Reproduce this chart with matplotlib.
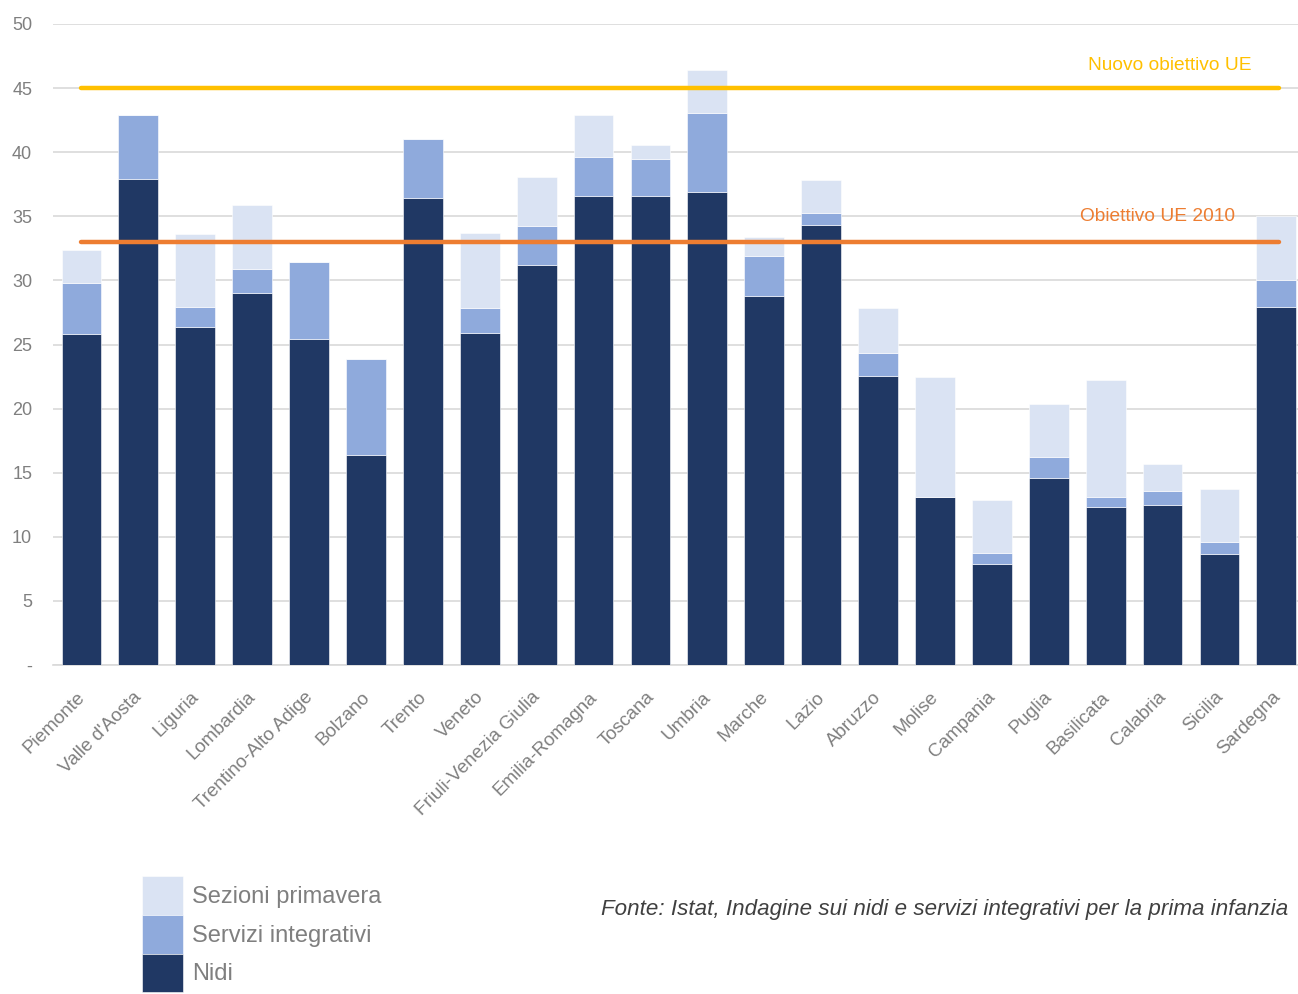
import numpy as np
import matplotlib
matplotlib.use("Agg")
import matplotlib.pyplot as plt
from matplotlib.transforms import ScaledTranslation

plt.rcParams['font.family'] = ['Liberation Sans', 'DejaVu Sans']

# regions, left to right
regioni = ["Piemonte", "Valle d'Aosta", "Liguria", "Lombardia", "Trentino-Alto Adige",
           "Bolzano", "Trento", "Veneto", "Friuli-Venezia Giulia", "Emilia-Romagna",
           "Toscana", "Umbria", "Marche", "Lazio", "Abruzzo", "Molise", "Campania",
           "Puglia", "Basilicata", "Calabria", "Sicilia", "Sardegna"]

# cumulative tops (posti per 100 bambini)
top_nidi = [25.8, 37.9, 26.35, 29.0, 25.4, 16.4, 36.45, 25.9, 31.2, 36.55, 36.55,
            36.86, 28.78, 34.32, 22.57, 13.07, 7.84, 14.6, 12.36, 12.47, 8.68, 27.94]
top_integrativi = [29.76, 42.9, 27.9, 30.9, 31.45, 23.85, 41.0, 27.84, 34.26, 39.6, 39.5,
                   43.04, 31.93, 35.24, 24.32, 13.07, 8.75, 16.25, 13.07, 13.58, 9.56, 30.03]
top_primavera = [32.4, 42.9, 33.6, 35.9, 31.45, 23.85, 41.0, 33.7, 38.04, 42.94, 40.54,
                 46.39, 33.38, 37.8, 27.84, 22.43, 12.9, 20.34, 22.26, 15.68, 13.75, 35.0]

obiettivo_nuovo = 45
obiettivo_2010 = 33

nidi = np.array(top_nidi)
integrativi = np.array(top_integrativi) - nidi
primavera = np.array(top_primavera) - np.array(top_integrativi)

c_nidi = '#203864'
c_int = '#8FAADC'
c_prim = '#DAE3F3'
c_text = '#7F7F7F'

fig = plt.figure(figsize=(12.98, 9.94), dpi=100)
# axes run past the right edge, as in the cropped original
ax = fig.add_axes([53/1298, 1 - 665/994, 22*56.9/1298, (665-24)/994])

x = np.arange(len(regioni))
w = 0.7
b1 = ax.bar(x, nidi, w, color=c_nidi, edgecolor='white', linewidth=0.4, zorder=3)
b2 = ax.bar(x, integrativi, w, bottom=nidi, color=c_int, edgecolor='white', linewidth=0.4, zorder=3)
b3 = ax.bar(x, primavera, w, bottom=nidi + integrativi, color=c_prim, edgecolor='white', linewidth=0.4, zorder=3)

# target lines
ax.plot([x[0], x[-1] + 0.05], [obiettivo_nuovo]*2, color='#FFC000', lw=3.2,
        solid_capstyle='round', zorder=4)
ax.plot([x[0], x[-1] + 0.05], [obiettivo_2010]*2, color='#ED7D31', lw=3.2,
        solid_capstyle='round', zorder=4)
ax.text(20.57, 46.8, "Nuovo obiettivo UE", color='#FFC000', fontsize=13.8,
        ha='right', va='center', zorder=5)
ax.text(20.27, 35.0, "Obiettivo UE 2010", color='#ED7D31', fontsize=13.8,
        ha='right', va='center', zorder=5)

ax.set_xlim(-0.5, len(regioni) - 0.5)
ax.set_ylim(0, 50)
ax.set_yticks(np.arange(0, 51, 5))
ax.set_yticklabels(['-'] + [str(v) for v in range(5, 51, 5)])
ax.yaxis.grid(True, color='#D9D9D9', lw=1.2, zorder=0)
ax.set_axisbelow(True)
for s in ['top', 'right', 'left']:
    ax.spines[s].set_visible(False)
ax.spines['bottom'].set_color('#D9D9D9')
ax.spines['bottom'].set_linewidth(1.2)
ax.tick_params(axis='y', length=0, pad=15, labelsize=13, labelcolor=c_text)
ax.tick_params(axis='x', length=0, pad=17, labelsize=13.6, labelcolor=c_text)
ax.set_xticks(x)
ax.set_xticklabels(regioni, rotation=45, ha='right', rotation_mode='anchor')
shift = ScaledTranslation(-5/100, 0, fig.dpi_scale_trans)
for lab in ax.get_xticklabels():
    lab.set_transform(lab.get_transform() + shift)

fig.legend([b3, b2, b1], ["Sezioni primavera", "Servizi integrativi", "Nidi"],
           loc='upper left', bbox_to_anchor=(142/1298, 1 - 876/994),
           frameon=False, fontsize=17, labelcolor=c_text, borderpad=0,
           handlelength=1.74, handleheight=2.15, labelspacing=0, handletextpad=0.38,
           borderaxespad=0)

fig.text(601/1298, 1 - 909/994,
         "Fonte: Istat, Indagine sui nidi e servizi integrativi per la prima infanzia",
         fontsize=16.1, style='italic', color='#404040', ha='left', va='center')

fig.savefig('out.png', dpi=100)
